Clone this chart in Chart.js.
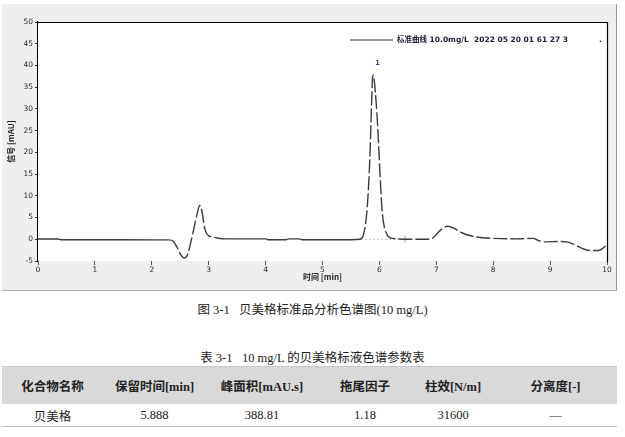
<!DOCTYPE html>
<html>
<head>
<meta charset="utf-8">
<script src="https://cdn.jsdelivr.net/npm/chart.js@4.4.1/dist/chart.umd.min.js"></script>
<style>
  html, body { margin: 0; padding: 0; background: #fff; width: 625px; height: 437px; overflow: hidden; }
  #panel { position: absolute; left: 2px; top: 4px; width: 614px; height: 286px;
           background: #efefef; border-right: 1px solid #9a9a9a; border-bottom: 1px solid #a8a8a8; }
  #wrap { position: absolute; left: 0; top: 0; width: 625px; height: 292px; }
  .serif { font-family: "Liberation Serif", "Noto Sans CJK SC", serif; color: #222; }
  #figcap { position: absolute; left: 0; width: 625px; top: 299px; text-align: center; font-size: 12.5px; }
  #tabcap { position: absolute; left: 0; width: 625px; top: 347px; text-align: center; font-size: 12.5px; }
  table { position: absolute; left: 2px; top: 366px; width: 615px; border-collapse: collapse; font-size: 12.5px; }
  th { background: #d9d9d9; height: 37px; font-weight: bold; border-top: 1px solid #c8c8c8; padding: 0; }
  td { height: 22px; text-align: center; padding: 0; border-bottom: 1.5px solid #bcbcbc; }
</style>
</head>
<body>
<div id="panel"></div>
<div id="wrap"><canvas id="chart" width="625" height="292"></canvas></div>
<div id="figcap" class="serif">图 3-1&nbsp;&nbsp;&nbsp;贝美格标准品分析色谱图(10 mg/L)</div>
<div id="tabcap" class="serif">表 3-1&nbsp;&nbsp;&nbsp;10 mg/L 的贝美格标液色谱参数表</div>
<table class="serif">
  <colgroup>
    <col style="width:101px"><col style="width:103px"><col style="width:112px">
    <col style="width:94px"><col style="width:82px"><col style="width:123px">
  </colgroup>
  <thead><tr id="head"></tr></thead>
  <tbody><tr id="row"></tr></tbody>
</table>
<script>
// Chromatogram trace: retention time (min) and detector signal (mAU)
const retentionTime = [
  0, 0.35, 0.4, 1.0, 2.0, 2.3, 2.38, 2.45, 2.52, 2.57, 2.62, 2.68, 2.74, 2.8, 2.84, 2.88,
  2.93, 2.98, 3.05, 3.15, 3.3, 4.0, 4.05, 4.35, 4.4, 4.6, 4.65, 5.5, 5.66, 5.72, 5.77,
  5.8, 5.83, 5.86, 5.88, 5.895, 5.91, 5.94, 5.97, 6.0, 6.04, 6.07, 6.12, 6.19, 6.3, 6.45,
  6.9, 6.95, 7.02, 7.1, 7.2, 7.3, 7.45, 7.6, 7.8, 8.0, 8.4, 8.55, 8.7, 8.8, 8.9, 9.15,
  9.3, 9.45, 9.6, 9.7, 9.85, 9.95, 10.0
];
const signal = [
  0.05, 0.05, -0.1, -0.1, -0.15, -0.15, -0.5, -2.0, -3.8, -4.3, -3.8, -1.0, 2.5, 6.0, 7.8, 6.5,
  2.5, 1.0, 0.6, 0.3, 0.1, 0.1, -0.1, -0.1, 0.1, 0.1, -0.1, -0.1, 0.0, 1.0, 5.0,
  10.0, 18.0, 30.0, 37.3, 37.8, 36.5, 32.0, 26.0, 18.0, 8.0, 4.0, 1.5, 0.3, 0.1, 0.0,
  0.0, 0.4, 1.4, 2.4, 3.0, 2.6, 1.5, 0.8, 0.35, 0.2, 0.1, 0.15, 0.2, -0.3, -0.6, -0.5,
  -0.6, -1.4, -2.3, -2.6, -2.6, -1.8, -1.2
];
// Integration baseline under peak 1
const baselineTime = [5.68, 6.45];
const baselineSignal = [0, 0];
// Peak annotation
const peakNumber = "1";
const peakTime = 5.895;
const peakSignal = 37.8;
const traceLabel = "标准曲线 10.0mg/L  2022 05 20 01 61 27 3";

// Axis ticks
const xTicks = [0, 1, 2, 3, 4, 5, 6, 7, 8, 9, 10];
const yTicks = [-5, 0, 5, 10, 15, 20, 25, 30, 35, 40, 45, 50];

// Result table
const tableHeaders = ["化合物名称", "保留时间[min]", "峰面积[mAU.s]", "拖尾因子", "柱效[N/m]", "分离度[-]"];
const tableRow = ["贝美格", "5.888", "388.81", "1.18", "31600", "—"];

document.getElementById("head").innerHTML = tableHeaders.map(h => "<th>" + h + "</th>").join("");
document.getElementById("row").innerHTML = tableRow.map(v => "<td>" + v + "</td>").join("");

const tickFont = { family: "DejaVu Sans", size: 7.5 };
const dashedRanges = [[2.3, 3.3], [5.6, 6.5], [6.9, 10.1]];
const inDashed = x => dashedRanges.some(r => x >= r[0] && x < r[1]);

const frameAndNotes = {
  id: "frameAndNotes",
  beforeDatasetsDraw(chart) {
    const { ctx, chartArea: a } = chart;
    ctx.save();
    ctx.fillStyle = "#ffffff";
    ctx.fillRect(a.left, a.top, a.right - a.left, a.bottom - a.top);
    ctx.restore();
  },
  afterDatasetsDraw(chart) {
    const { ctx, chartArea: a, scales } = chart;
    ctx.save();
    // top and right frame lines
    ctx.strokeStyle = "#000";
    ctx.lineWidth = 1.2;
    ctx.beginPath();
    ctx.moveTo(a.left, a.top + 0.5);
    ctx.lineTo(a.right + 0.5, a.top + 0.5);
    ctx.lineTo(a.right + 0.5, a.bottom + 1);
    ctx.stroke();
    // legend entry
    const ds = chart.data.datasets[0];
    const ly = a.top + 18;
    ctx.strokeStyle = ds.borderColor;
    ctx.lineWidth = 1.2;
    ctx.beginPath();
    ctx.moveTo(350, ly);
    ctx.lineTo(393, ly);
    ctx.stroke();
    ctx.fillStyle = "#1d1d33";
    ctx.font = "bold 7.5px 'DejaVu Sans', 'Noto Sans CJK SC'";
    ctx.textBaseline = "middle";
    ctx.fillText(ds.label, 397, ly);
    ctx.fillText(".", 599, ly);
    // peak number
    ctx.fillStyle = "#3a4f8a";
    ctx.font = "bold 7px 'DejaVu Sans'";
    ctx.textAlign = "center";
    ctx.fillText(peakNumber, scales.x.getPixelForValue(peakTime) + 4, scales.y.getPixelForValue(peakSignal) - 12);
    ctx.restore();
  }
};

new Chart(document.getElementById("chart"), {
  type: "line",
  data: {
    datasets: [
      {
        label: traceLabel,
        data: retentionTime.map((t, i) => ({ x: t, y: signal[i] })),
        borderColor: "#3c3c3c",
        borderWidth: 1.4,
        pointRadius: 0,
        cubicInterpolationMode: "monotone",
        segment: {
          borderDash: c => inDashed(c.p0.parsed.x) ? [14, 3] : undefined
        }
      },
      {
        label: "baseline",
        data: baselineTime.map((t, i) => ({ x: t, y: baselineSignal[i] })),
        borderColor: "#b8b8b8",
        borderWidth: 1,
        borderDash: [2, 2],
        pointRadius: [0, 3],
        pointStyle: "line",
        rotation: 90,
        pointBorderColor: "#999",
        pointBorderWidth: 1
      }
    ]
  },
  options: {
    responsive: false,
    animation: false,
    events: [],
    layout: { padding: { left: 0, right: 18, top: 22, bottom: 0 } },
    plugins: { legend: { display: false }, tooltip: { enabled: false } },
    scales: {
      x: {
        type: "linear",
        min: 0, max: 10,
        afterFit: s => { s.height = 31; },
        afterBuildTicks: s => { s.ticks = xTicks.map(v => ({ value: v })); },
        grid: { drawOnChartArea: false, drawTicks: true, tickLength: 4, color: "#555" },
        border: { display: false },
        ticks: { font: tickFont, color: "#2a2a2a", padding: 1, maxRotation: 0 },
        title: { display: true, text: "时间 [min]", font: { family: "Noto Sans CJK SC", size: 8, weight: "bold" },
                 color: "#222", padding: { top: 0, bottom: 10 } }
      },
      y: {
        min: -5, max: 50,
        afterFit: s => { s.width = 38; },
        afterBuildTicks: s => { s.ticks = yTicks.map(v => ({ value: v })); },
        grid: { drawOnChartArea: false, drawTicks: true, tickLength: 3, color: "#333" },
        border: { display: true, color: "#000", width: 1.2 },
        ticks: { font: tickFont, color: "#2a2a2a", padding: 2 },
        title: { display: true, text: "信号 [mAU]", font: { family: "Noto Sans CJK SC", size: 8, weight: "bold" },
                 color: "#222", padding: { top: 6, bottom: 0 } }
      }
    }
  },
  plugins: [frameAndNotes]
});
</script>
</body>
</html>
